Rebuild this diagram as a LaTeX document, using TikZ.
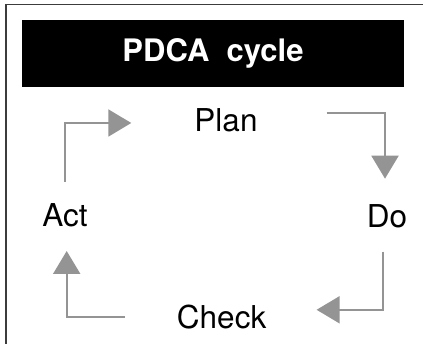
\documentclass[tikz,border=0pt]{standalone}
\usepackage{fontspec}
\setmainfont{TeX Gyre Heros}
\usetikzlibrary{arrows.meta}
\definecolor{flowgray}{RGB}{148,148,148}
\definecolor{framegray}{RGB}{60,60,60}

\begin{document}
\begin{tikzpicture}[x=1pt,y=1pt,
    step label/.style={font=\fontsize{31.5}{36}\selectfont, inner sep=0pt, anchor=base},
    flow/.style={draw=flowgray, line width=2pt,
        -{Triangle[length=23pt,width=27pt,fill=flowgray]}},
]
    \useasboundingbox (0,0) rectangle (423,344);
    \draw[framegray, line width=1.3pt](6,-2)--(6,339.3)--(425,339.3);

    \node[fill=black, minimum width=382pt, minimum height=67pt, inner sep=0pt,
        text=white, font=\fontsize{31}{36}\selectfont\bfseries](title)at(213,290.5){PDCA\ \ cycle};

    \node[step label](plan)at(226,212){Plan};
    \node[step label](do)at(387,116.3){Do};
    \node[step label](check)at(221.7,15.7){Check};
    \node[step label](act)at(65,117.3){Act};

    \draw[flow]([yshift=45pt]act.base)|-([xshift=-63pt,yshift=9pt]plan.base west);
    \draw[flow]([xshift=69pt,yshift=19pt]plan.base east)-|([xshift=-2pt,yshift=49pt]do.base);
    \draw[flow]([xshift=-3.7pt,yshift=-24pt]do.base)|-([xshift=50pt,yshift=18.5pt]check.base east);
    \draw[flow]([xshift=-51.7pt,yshift=11.6pt]check.base west)-|([xshift=1.7pt,yshift=-24.3pt]act.base);
\end{tikzpicture}
\end{document}
